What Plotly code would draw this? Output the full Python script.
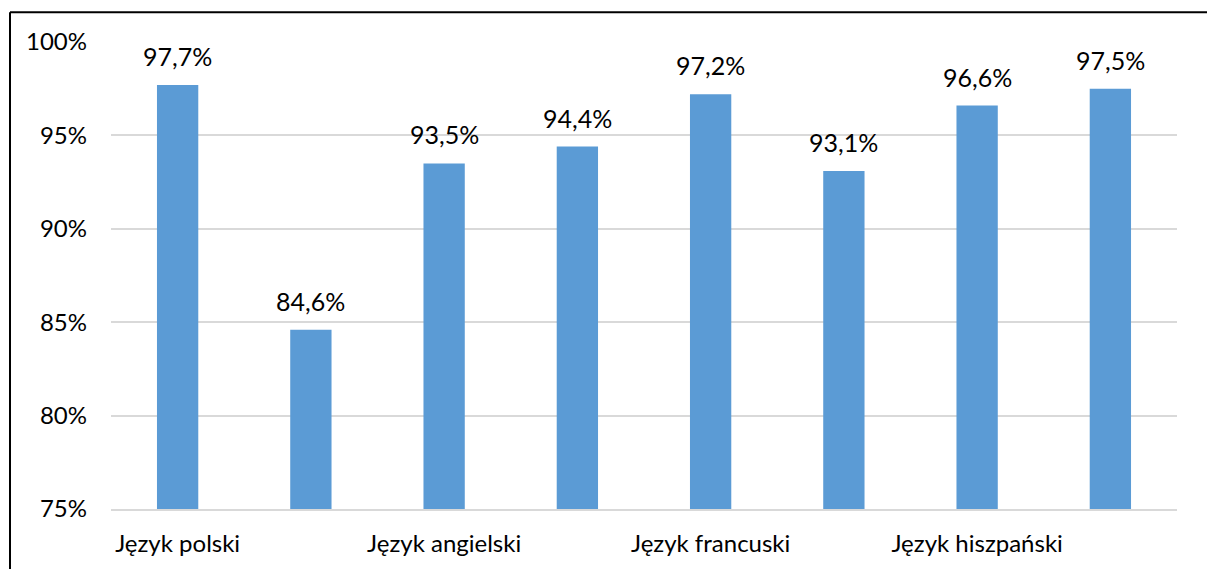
import plotly.graph_objects as go

languages = ["Język polski", "Język angielski", "Język francuski", "Język hiszpański"]
values = [97.7, 84.6, 93.5, 94.4, 97.2, 93.1, 96.6, 97.5]
labels = ["97,7%", "84,6%", "93,5%", "94,4%", "97,2%", "93,1%", "96,6%", "97,5%"]
y_ticks = [75, 80, 85, 90, 95, 100]
y_tick_text = ["75%", "80%", "85%", "90%", "95%", "100%"]

W, H = 1207, 569
ML, MR, MT, MB = 111, 30, 42, 57
PW, PH = W - ML - MR, H - MT - MB

FONT = "Lato"

x = list(range(len(values)))

fig = go.Figure()
fig.add_trace(go.Bar(
    x=x, y=values,
    marker=dict(color="#5B9BD5", line=dict(width=0)),
    width=0.31,
    hoverinfo="skip",
))

for xi, v, t in zip(x, values, labels):
    fig.add_annotation(x=xi, y=v, text=t, showarrow=False,
                       yanchor="bottom", yshift=12,
                       font=dict(family=FONT, size=25, color="#000000"))

def px_x(p):
    return (p - ML) / PW

def px_y(p):
    return (H - MB - p) / PH

fig.add_shape(type="line", xref="paper", yref="paper",
              x0=px_x(10), x1=px_x(W + 5), y0=px_y(12), y1=px_y(12),
              line=dict(color="#000000", width=2))
fig.add_shape(type="line", xref="paper", yref="paper",
              x0=px_x(10), x1=px_x(10), y0=px_y(12), y1=px_y(H + 5),
              line=dict(color="#000000", width=2))

fig.update_layout(
    width=W, height=H,
    margin=dict(l=ML, r=MR, t=MT, b=MB, pad=0),
    paper_bgcolor="#FFFFFF", plot_bgcolor="#FFFFFF",
    showlegend=False,
    font=dict(family=FONT, size=24, color="#000000"),
    xaxis=dict(
        range=[-0.5, len(values) - 0.5],
        tickvals=[0, 2, 4, 6], ticktext=languages,
        showgrid=False, zeroline=False,
        showline=True, linecolor="#D9D9D9", linewidth=1.5,
        ticks="", ticklabelstandoff=12,
        tickfont=dict(family=FONT, size=24, color="#000000"),
    ),
    yaxis=dict(
        range=[75, 100], tickvals=y_ticks, ticktext=y_tick_text,
        showgrid=True, gridcolor="#D9D9D9", gridwidth=1.5,
        zeroline=False, showline=False, ticks="",
        ticklabelstandoff=23,
        tickfont=dict(family=FONT, size=24, color="#000000"),
    ),
)

fig.write_html("out.html", config={"displayModeBar": False},
               post_script="document.body.style.margin='0';document.body.style.padding='0';")
